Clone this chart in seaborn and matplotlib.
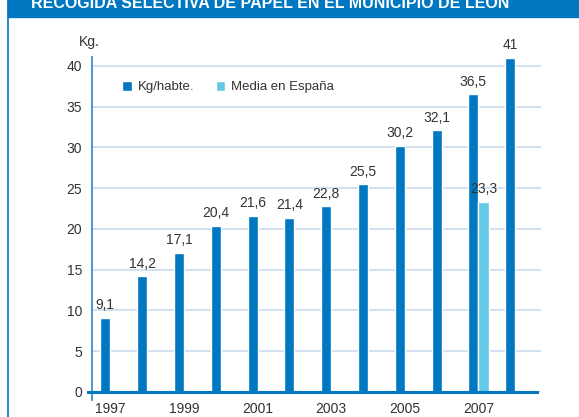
"""Recogida selectiva de papel en el municipio de León"""
import pandas as pd
import matplotlib.pyplot as plt
import matplotlib.ticker as mticker
import seaborn as sns

# Datos
anios = ['1997', '1998', '1999', '2000', '2001', '2002',
         '2003', '2004', '2005', '2006', '2007', '2008']
kg_habte = [9.1, 14.2, 17.1, 20.4, 21.6, 21.4, 22.8, 25.5, 30.2, 32.1, 36.5, 41]
media_anios = ['2007']
media_espana = [23.3]
etiquetas_x = ['1997', '', '1999', '', '2001', '', '2003', '', '2005', '', '2007', '']

AZUL = '#0077c1'
CELESTE = '#63c9e4'
REJILLA = '#c8dcf0'
TEXTO = '#333333'

df = pd.concat([
    pd.DataFrame({'Año': anios, 'Valor': kg_habte, 'Serie': 'Kg/habte.'}),
    pd.DataFrame({'Año': media_anios, 'Valor': media_espana, 'Serie': 'Media en España'}),
], ignore_index=True)

sns.set_style('white')
plt.rcParams['font.family'] = ['Liberation Sans', 'DejaVu Sans']

fig = plt.figure(figsize=(5.79, 4.17), dpi=100)
ax = fig.add_axes([0.1589, 0.0600, 0.7755, 0.8034])

sns.barplot(data=df, x='Año', y='Valor', hue='Serie', order=anios,
            hue_order=['Kg/habte.', 'Media en España'],
            palette=[AZUL, CELESTE], width=0.55, ax=ax, saturation=1)

for cont in ax.containers:
    ax.bar_label(cont, fmt=lambda v: f"{v:g}".replace('.', ','),
                 padding=4, fontsize=10, color=TEXTO)

ax.set_xlim(-0.5, 11.7)
ax.set_ylim(0, 41.1)
ax.set_yticks(range(0, 41, 5))
ax.yaxis.grid(True, color=REJILLA, linewidth=1.2)
ax.set_axisbelow(True)
ax.tick_params(axis='y', length=5, color=REJILLA, labelsize=10,
               labelcolor=TEXTO, pad=2)

ax.set_xticks(range(len(anios)))
ax.set_xticklabels(etiquetas_x)
ax.tick_params(axis='x', which='major', length=0, labelsize=10,
               labelcolor=TEXTO, pad=7)
ax.xaxis.set_minor_locator(mticker.FixedLocator([i - 0.5 for i in range(13)]))
ax.tick_params(axis='x', which='minor', length=6, width=1.2, color='#5aa6de',
               direction='out')

for lado in ['top', 'right']:
    ax.spines[lado].set_visible(False)
ax.spines['left'].set_color('#3a8fd2')
ax.spines['left'].set_linewidth(1.3)
ax.spines['left'].set_bounds(-1, 41.1)
ax.spines['bottom'].set_color(AZUL)
ax.spines['bottom'].set_linewidth(2.2)
ax.spines['bottom'].set_bounds(-0.6, 11.6)

ax.set_xlabel('')
ax.set_ylabel('')
ax.text(-0.006, 1.025, 'Kg.', transform=ax.transAxes, ha='center', va='bottom',
        fontsize=10, color=TEXTO)

h, l = ax.get_legend_handles_labels()
ax.legend(h, l, ncol=2, frameon=False, loc='center left',
          bbox_to_anchor=(0.067, 0.91), borderpad=0, borderaxespad=0,
          handlelength=0.75, handleheight=0.75, handletextpad=0.45,
          columnspacing=1.6, fontsize=9.5, labelcolor=TEXTO)

# Banda del título (cortada en la parte superior)
fig.patches.append(plt.Rectangle((8 / 579, 1 - 17 / 417), 1, 17 / 417,
                                 transform=fig.transFigure, color=AZUL, zorder=0))
fig.lines.append(plt.Line2D([8 / 579, 8 / 579], [0, 1], transform=fig.transFigure,
                            color=AZUL, linewidth=1.2))
fig.text(270 / 579, 1 - 3 / 417, 'RECOGIDA SELECTIVA DE PAPEL EN EL MUNICIPIO DE LEÓN',
         ha='center', va='center', color='white', fontsize=11.5, fontweight='bold')

plt.savefig('out.png', dpi=100)
